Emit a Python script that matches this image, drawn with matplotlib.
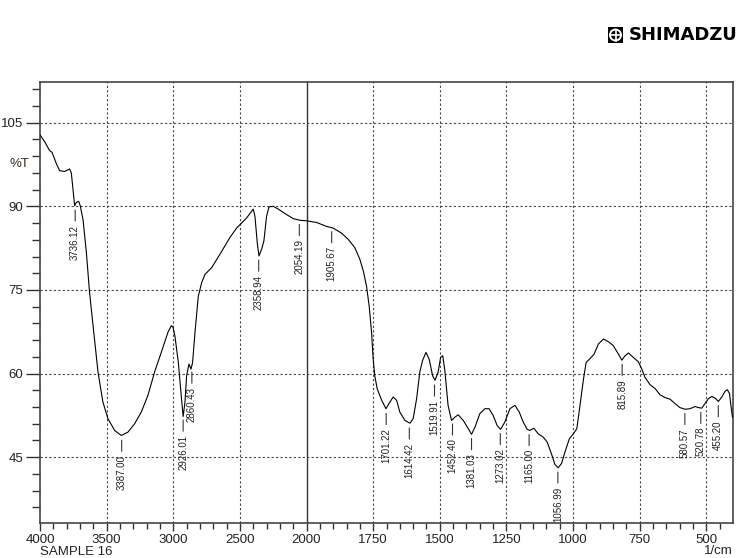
import numpy as np
import matplotlib
matplotlib.use('Agg')
import matplotlib.pyplot as plt
from matplotlib.patches import Rectangle, Ellipse
from matplotlib.lines import Line2D

plt.rcParams['font.family'] = ['Liberation Sans Narrow', 'Liberation Sans', 'DejaVu Sans']

# --- Spectrum (wavenumber 1/cm, %T) ---
wavenumber = [4000, 3965, 3928, 3910, 3878, 3853, 3815, 3778, 3765, 3752, 3740, 3728,
              3710, 3698, 3677, 3652, 3628, 3602, 3565, 3528, 3490, 3440, 3390, 3340,
              3290, 3240, 3190, 3140, 3090, 3040, 3015, 3002, 2988, 2962, 2945, 2926,
              2912, 2900, 2882, 2867, 2855, 2837, 2812, 2787, 2762, 2712, 2650, 2575,
              2525, 2450, 2400, 2387, 2370, 2357, 2337, 2320, 2300, 2282, 2250, 2212,
              2162, 2100, 2050, 2000, 1962, 1925, 1900, 1869, 1844, 1819, 1800, 1787,
              1775, 1765, 1756, 1750, 1744, 1735, 1718, 1702, 1687, 1675, 1662, 1650,
              1631, 1612, 1600, 1587, 1575, 1565, 1552, 1540, 1527, 1518, 1506, 1497,
              1489, 1481, 1469, 1456, 1443, 1431, 1412, 1393, 1381, 1368, 1350, 1331,
              1315, 1300, 1285, 1272, 1256, 1237, 1218, 1202, 1187, 1172, 1162, 1147,
              1131, 1112, 1097, 1081, 1068, 1056, 1043, 1030, 1014, 999, 986, 974,
              961, 951, 936, 921, 905, 886, 867, 849, 830, 817, 805, 792,
              774, 755, 742, 730, 711, 692, 674, 655, 636, 617, 599, 580,
              561, 542, 530, 517, 505, 492, 480, 467, 455, 442, 430, 421,
              413, 408, 402]
transmittance = [102.8, 101.6, 100.0, 99.7, 97.7, 96.4, 96.25, 96.7, 96.0, 93.0, 90.1, 90.7,
                 90.9, 90.1, 87.6, 81.7, 74.5, 68.6, 60.3, 54.9, 51.9, 49.8, 48.9, 49.5,
                 51.0, 53.1, 56.1, 60.3, 63.8, 67.4, 68.6, 68.3, 66.8, 62.0, 57.3, 52.3,
                 54.9, 59.6, 61.7, 60.8, 62.0, 67.4, 73.9, 76.3, 77.8, 79.0, 81.4, 84.4,
                 86.1, 87.9, 89.5, 88.2, 83.5, 81.1, 82.3, 83.8, 88.2, 89.9, 90.0, 89.5,
                 88.7, 87.8, 87.5, 87.4, 87.1, 86.4, 86.1, 85.2, 84.1, 82.6, 80.5, 78.4,
                 75.7, 72.1, 67.4, 62.6, 59.6, 57.3, 55.2, 53.7, 54.9, 55.8, 55.2, 53.1,
                 51.6, 51.1, 51.9, 55.5, 60.3, 62.3, 63.8, 62.6, 59.6, 58.8, 60.3, 62.9,
                 63.2, 60.5, 54.3, 51.6, 52.2, 52.6, 51.6, 50.1, 49.1, 50.4, 52.8, 53.7,
                 53.7, 52.5, 50.7, 50.0, 51.3, 53.7, 54.3, 53.1, 51.3, 50.0, 49.8, 50.2,
                 49.2, 48.6, 47.7, 45.6, 43.7, 43.1, 43.9, 46.0, 48.3, 49.2, 50.1, 54.3,
                 59.0, 62.0, 62.7, 63.5, 65.3, 66.2, 65.7, 65.0, 63.5, 62.4, 63.2, 63.7,
                 62.9, 62.1, 60.8, 59.3, 58.0, 57.3, 56.2, 55.7, 55.4, 54.6, 53.9, 53.6,
                 53.7, 54.1, 53.9, 53.8, 54.6, 55.5, 55.9, 55.6, 55.0, 55.8, 56.8, 57.1,
                 56.4, 54.3, 52.2]

# --- Peak picks ---
peak_wn = [3736.12, 3387.00, 2926.01, 2860.43, 2358.94, 2054.19, 1905.67, 1701.22,
           1614.42, 1519.91, 1452.40, 1381.03, 1273.02, 1165.00, 1056.99, 815.89,
           580.57, 520.78, 455.20]
peak_t = [90.1, 48.8, 52.4, 61.0, 81.1, 87.5, 86.2, 53.6, 51.0, 58.7, 51.7, 49.1,
          50.0, 49.8, 43.1, 62.4, 53.6, 53.8, 55.0]

x_major = [4000, 3500, 3000, 2500, 2000, 1750, 1500, 1250, 1000, 750, 500]
y_major = [45, 60, 75, 90, 105]


# 4000-2000 is drawn at half the scale of 2000-400
def fwd(x):
    x = np.asarray(x, dtype=float)
    return np.where(x >= 2000, 1600 + (x - 2000) * 0.5, x - 400)


def inv(p):
    p = np.asarray(p, dtype=float)
    return np.where(p >= 1600, 2000 + (p - 1600) * 2, p + 400)


W, H = 737, 558
fig = plt.figure(figsize=(W / 100, H / 100), dpi=100)
ax = fig.add_axes([40 / W, 1 - 523 / H, 693 / W, 441 / H])
ax.set_xscale('function', functions=(fwd, inv))
ax.set_xlim(4000, 400)
ax.set_ylim(33.2, 112.3)

# grid
for xv in x_major[1:]:
    if xv == 2000:
        ax.axvline(xv, color='#333333', lw=1.0, zorder=1)
    else:
        ax.axvline(xv, color='#444444', lw=0.8, ls=(0, (2, 2)), zorder=1)
for yv in y_major:
    ax.axhline(yv, color='#444444', lw=0.8, ls=(0, (2, 2)), zorder=1)

ax.plot(wavenumber, transmittance, color='black', lw=0.8, zorder=3)

for wn, t in zip(peak_wn, peak_t):
    ax.annotate(f"{wn:.2f}", xy=(wn, t), xytext=(0, -13.5), textcoords='offset points',
                rotation=90, ha='center', va='top', fontsize=7, color='#222222',
                arrowprops=dict(arrowstyle='-', lw=0.8, color='#333333',
                                shrinkA=0.5, shrinkB=3, relpos=(0.5, 1.0)),
                zorder=4)

# ticks
ax.set_xticks(x_major)
ax.set_xticklabels([str(v) for v in x_major])
x_minor = [v for v in list(range(3900, 2000, -100)) + list(range(1950, 400, -50))
           if v not in x_major]
ax.set_xticks(x_minor, minor=True)
ax.set_yticks(y_major)
ax.set_yticklabels([str(v) for v in y_major])
ax.set_yticks([v for v in range(36, 112, 3) if v not in y_major], minor=True)

ax.tick_params(axis='x', which='major', direction='out', length=6, width=1,
               pad=2, labelsize=9.5, colors='#333333', labelcolor='#222222')
ax.tick_params(axis='x', which='minor', direction='out', length=4, width=1,
               colors='#333333')
ax.tick_params(axis='y', which='major', direction='out', length=10, width=1,
               pad=2, labelsize=9.5, colors='#333333', labelcolor='#222222')
ax.tick_params(axis='y', which='minor', direction='out', length=6, width=1,
               colors='#333333')
for s in ax.spines.values():
    s.set_color('#444444')
    s.set_linewidth(1.2)

fig.text(10 / W, 1 - 164 / H, '%T', fontsize=9.5, color='#3a2a1a', va='center', ha='left')
fig.text(40 / W, 1 - 552 / H, 'SAMPLE 16', fontsize=9.5, color='#222222', va='center', ha='left')
fig.text(733 / W, 1 - 551 / H, '1/cm', fontsize=9.5, color='#222222', va='center', ha='right')

# SHIMADZU logo
fig.patches.append(Rectangle((608 / W, 1 - 43 / H), 15 / W, 16 / H,
                             transform=fig.transFigure, facecolor='black', edgecolor='none'))
fig.patches.append(Ellipse((615.5 / W, 1 - 35 / H), 11 / W, 11 / H, transform=fig.transFigure,
                           facecolor='none', edgecolor='white', lw=1.4))
fig.lines.append(Line2D([615.5 / W, 615.5 / W], [1 - 29.5 / H, 1 - 40.5 / H],
                        transform=fig.transFigure, color='white', lw=1.2))
fig.lines.append(Line2D([610 / W, 621 / W], [1 - 35 / H, 1 - 35 / H],
                        transform=fig.transFigure, color='white', lw=1.2))
fig.text(737 / W, 1 - 35.5 / H, 'SHIMADZU', fontsize=13, fontweight='bold',
         family='DejaVu Sans', color='black', va='center', ha='right')

fig.savefig('out.png', dpi=100, facecolor='white')
